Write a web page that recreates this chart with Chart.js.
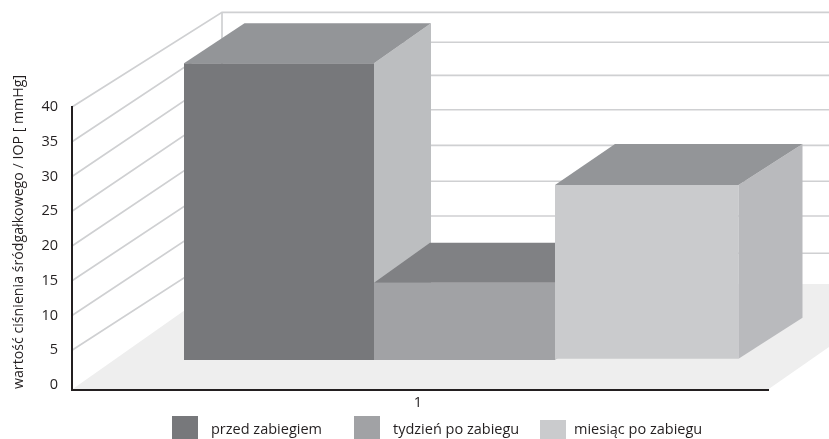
<!DOCTYPE html>
<html>
<head>
<meta charset="utf-8">
<style>
    html, body { margin: 0; padding: 0; background: #fff; }
    canvas { display: block; }
</style>
<script src="https://cdn.jsdelivr.net/npm/chart.js@4"></script>
</head>
<body>
<canvas id="chart-iop" width="829" height="439"></canvas>
<script>
var categories = ['1'];
var seriesNames = ['przed zabiegiem', 'tydzień po zabiegu', 'miesiąc po zabiegu'];
var beforeValues = [42.7];
var weekValues = [11.1];
var monthValues = [25];
var tickValues = [0, 5, 10, 15, 20, 25, 30, 35, 40];
var axisTitle = 'wartość ciśnienia śródgałkowego / IOP [ mmHg]';

(function () {
    'use strict';
    var fontFamily = '"Open Sans", "Noto Sans", sans-serif';
    var textColor = '#231f20';
    var gridColor = '#cfd0d2';

    // how far each tick climbs going from the side wall to the back wall
    var wallLift = [101, 97, 99.5, 99.5, 100.7, 101.5, 101.2, 99.5, 94.7];
    var wallX = 222;
    var floorBackY = 284;

    // each box sits inside the floor, with its own depth
    var boxes = [
        { shiftX: 49, shiftY: -25, depthLeft: 60.5, depthRight: 57, rise: 40, top: '#939598', side: '#bcbec0' },
        { shiftX: 44.5, shiftY: -25, depthLeft: 56, depthRight: 56, rise: 40, top: '#808184', side: '#bcbec0' },
        { shiftX: 36.75, shiftY: -26.3, depthLeft: 60, depthRight: 64, rise: 41, top: '#939598', side: '#b9babd' }
    ];
    var legendItems = [
        { boxX: 172, boxY: 416, boxH: 23, textX: 211 },
        { boxX: 354, boxY: 416, boxH: 23, textX: 393 },
        { boxX: 540, boxY: 420, boxH: 19, textX: 574 }
    ];

    function polygon(ctx, points, color) {
        ctx.fillStyle = color;
        ctx.beginPath();
        ctx.moveTo(points[0][0], points[0][1]);
        for (var i = 1; i < points.length; i++) ctx.lineTo(points[i][0], points[i][1]);
        ctx.closePath();
        ctx.fill();
    }

    var room = {
        id: 'room',
        beforeDraw: function (chart) {
            var ctx = chart.ctx;
            var area = chart.chartArea;
            var y = chart.scales.y;
            ctx.save();
            ctx.strokeStyle = gridColor;
            ctx.lineWidth = 1.7;
            tickValues.forEach(function (v, i) {
                if (v === 0) return;
                var front = y.getPixelForValue(v);
                var back = front - wallLift[i];
                ctx.beginPath();
                ctx.moveTo(area.left, front);
                ctx.lineTo(wallX, back);
                ctx.lineTo(chart.width, back);
                ctx.stroke();
            });
            var topBack = y.getPixelForValue(40) - wallLift[wallLift.length - 1];
            ctx.beginPath();
            ctx.moveTo(wallX, topBack);
            ctx.lineTo(wallX, floorBackY);
            ctx.stroke();
            polygon(ctx, [
                [area.left, area.bottom],
                [wallX, floorBackY],
                [chart.width, floorBackY],
                [chart.width, 347],
                [area.right, area.bottom]
            ], '#eeeeee');
            ctx.restore();
        },
        // painted left to right so each box covers the side of the one before it
        beforeDatasetsDraw: function (chart) {
            var ctx = chart.ctx;
            boxes.forEach(function (box, i) {
                var bar = chart.getDatasetMeta(i).data[0];
                var left = bar.x - bar.width / 2 + box.shiftX;
                var right = left + bar.width;
                var top = bar.y + box.shiftY;
                var bottom = bar.base + box.shiftY;
                ctx.save();
                ctx.translate(box.shiftX, box.shiftY);
                bar.draw(ctx);
                ctx.restore();
                polygon(ctx, [
                    [right, top],
                    [right + box.depthRight, top - box.rise],
                    [right + box.depthRight, bottom - box.rise],
                    [right, bottom]
                ], box.side);
                polygon(ctx, [
                    [left, top],
                    [left + box.depthLeft, top - box.rise],
                    [right + box.depthRight, top - box.rise],
                    [right, top]
                ], box.top);
            });
            return false;
        },
        afterDraw: function (chart) {
            var ctx = chart.ctx;
            ctx.save();
            ctx.textBaseline = 'middle';
            ctx.font = '14.5px ' + fontFamily;
            legendItems.forEach(function (item, i) {
                ctx.fillStyle = chart.data.datasets[i].backgroundColor;
                ctx.fillRect(item.boxX, item.boxY, 26, item.boxH);
                ctx.fillStyle = textColor;
                ctx.textAlign = 'left';
                ctx.fillText(seriesNames[i], item.textX, 430);
            });
            ctx.font = '14.2px ' + fontFamily;
            ctx.translate(19, 232);
            ctx.rotate(-Math.PI / 2);
            ctx.textAlign = 'center';
            ctx.fillText(axisTitle, 0, 0);
            ctx.restore();
        }
    };

    new Chart(document.getElementById('chart-iop'), {
        type: 'bar',
        data: {
            labels: categories,
            datasets: [
                { label: seriesNames[0], data: beforeValues, backgroundColor: '#77787b', maxBarThickness: 190 },
                { label: seriesNames[1], data: weekValues, backgroundColor: '#a1a2a5', maxBarThickness: 181 },
                { label: seriesNames[2], data: monthValues, backgroundColor: '#cacbcd', maxBarThickness: 183.5 }
            ]
        },
        options: {
            responsive: false,
            animation: false,
            layout: { padding: { top: 107, right: 61, left: 0, bottom: 0 } },
            plugins: { legend: { display: false }, tooltip: { enabled: false } },
            datasets: { bar: { barPercentage: 1, categoryPercentage: 570 / 696 } },
            scales: {
                x: {
                    grid: { display: false },
                    border: { color: '#231f20', width: 2 },
                    ticks: { color: textColor, font: { family: fontFamily, size: 14.5 }, padding: -3, labelOffset: -2, maxRotation: 0 },
                    afterFit: function (scale) { scale.height = 49.5; }
                },
                y: {
                    min: -0.65,
                    max: 40,
                    grid: { display: false },
                    border: { color: '#231f20', width: 2 },
                    ticks: { color: textColor, font: { family: fontFamily, size: 14.5 }, padding: 6, autoSkip: false },
                    afterBuildTicks: function (scale) {
                        scale.ticks = tickValues.map(function (v) { return { value: v }; });
                    },
                    afterFit: function (scale) { scale.width = 72; }
                }
            }
        },
        plugins: [room]
    });
})();
</script>
</body>
</html>
